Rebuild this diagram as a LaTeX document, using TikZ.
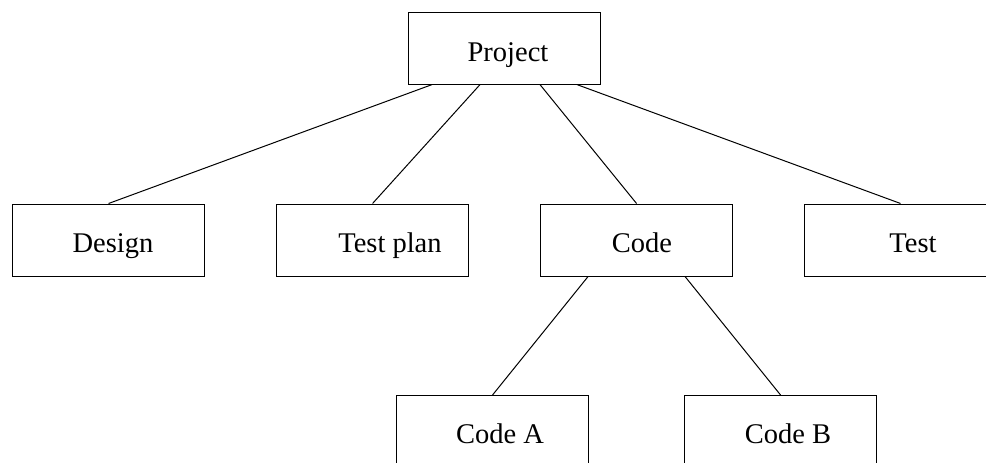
\documentclass[tikz,border=0pt]{standalone}
\usepackage{fontspec}
\setmainfont{Liberation Serif}
\begin{document}
\begin{tikzpicture}[x=1pt,y=-1pt,
  box/.style={draw=black,line width=1.1pt,rectangle,minimum width=192pt,minimum height=72pt,inner sep=0pt,anchor=north west},
  txt/.style={anchor=base,inner sep=0pt,font=\fontsize{28.5}{30}\selectfont},
  conn/.style={draw=black,line width=1pt}]
\useasboundingbox (0,0) rectangle (986,463);
\clip (0,0) rectangle (986,463);
\fill[white] (0,0) rectangle (986,463);
\node[box] (proj) at (408,11.5) {};
\node[box] (design) at (12,203.5) {};
\node[box] (tplan) at (276,203.5) {};
\node[box] (code) at (540,203.5) {};
\node[box] (test) at (804,203.5) {};
\node[box] (codea) at (396,395) {};
\node[box] (codeb) at (684,395) {};
\node[txt] (lproj) at (508,61) {Project};
\node[txt] (ldesign) at (113,252) {Design};
\node[txt] (ltplan) at (390,252) {Test plan};
\node[txt] (lcode) at (642,252) {Code};
\node[txt] (ltest) at (913,252) {Test};
\node[txt] (lcodea) at (500,443) {Code A};
\node[txt] (lcodeb) at (788,443) {Code B};
\draw[conn] ([xshift=24pt]proj.south west) -- (design.north);
\draw[conn] ([xshift=72pt]proj.south west) -- (tplan.north);
\draw[conn] ([xshift=132pt]proj.south west) -- (code.north);
\draw[conn] ([xshift=169pt]proj.south west) -- (test.north);
\draw[conn] ([xshift=48pt]code.south west) -- (codea.north);
\draw[conn] ([xshift=-48pt]code.south east) -- (codeb.north);
\end{tikzpicture}
\end{document}
